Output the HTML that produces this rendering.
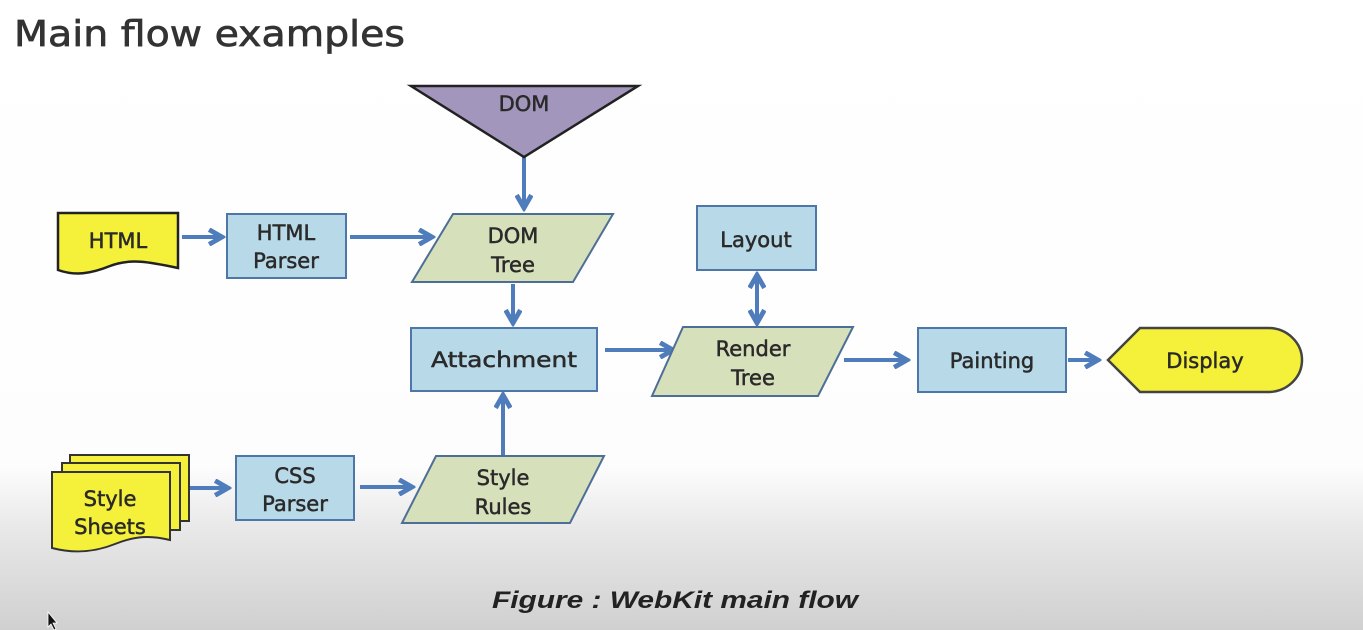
<!DOCTYPE html>
<html><head><meta charset="utf-8"><style>
html,body{margin:0;padding:0;width:1363px;height:630px;overflow:hidden;background:#fff}
svg{display:block}
text{font-family:"DejaVu Sans","Liberation Sans",sans-serif;fill:#2a2a2a}
</style></head><body>
<svg width="1363" height="630" viewBox="0 0 1363 630" xmlns="http://www.w3.org/2000/svg">
<defs>
<linearGradient id="bg" x1="0" y1="0" x2="0" y2="1">
<stop offset="0" stop-color="#ffffff"/><stop offset="0.74" stop-color="#fdfdfd"/><stop offset="0.84" stop-color="#e8e8e8"/><stop offset="1" stop-color="#d0d0d0"/>
</linearGradient>
<marker id="ah" viewBox="0 0 10 10" refX="8" refY="5" markerWidth="4.6" markerHeight="4.6" orient="auto-start-reverse">
<path d="M1,1 L8,5 L1,9" fill="none" stroke="#4f7cba" stroke-width="2.6"/>
</marker>
</defs>
<rect width="1363" height="630" fill="url(#bg)"/>
<text x="14" y="46" font-size="36" textLength="391" lengthAdjust="spacingAndGlyphs" style="fill:#333;stroke:#333;stroke-width:0.7">Main flow examples</text>

<g stroke="#4f7cba" stroke-width="4" fill="none" marker-end="url(#ah)">
<line x1="524" y1="157" x2="524" y2="208"/>
<line x1="182" y1="237" x2="222" y2="237"/>
<line x1="350" y1="237" x2="432" y2="237"/>
<line x1="513" y1="284" x2="513" y2="323"/>
<line x1="503" y1="456" x2="503" y2="395"/>
<line x1="605" y1="350" x2="673" y2="350"/>
<line x1="757" y1="300" x2="757" y2="275"/>
<line x1="757" y1="300" x2="757" y2="323"/>
<line x1="844" y1="360" x2="907" y2="360"/>
<line x1="1068" y1="360" x2="1098" y2="360"/>
<line x1="190" y1="488" x2="228" y2="488"/>
<line x1="360" y1="487" x2="412" y2="487"/>
</g>

<polygon points="411,86 638,86 524,157" fill="#a396bd" stroke="#222" stroke-width="2.5"/>

<path d="M58,213 L178,213 L178,268 C150,262 130,258 110,266 C90,274 75,276 58,270 Z" fill="#f5f03a" stroke="#222" stroke-width="2.5"/>

<g fill="#b8d9e7" stroke="#4d77a8" stroke-width="2">
<rect x="227" y="214" width="119" height="64"/>
<rect x="411" y="328" width="186" height="63"/>
<rect x="697" y="206" width="119" height="64"/>
<rect x="918" y="328" width="148" height="64"/>
<rect x="236" y="456" width="118" height="64"/>
</g>
<g fill="#d6e0bb" stroke="#4d6e96" stroke-width="2">
<polygon points="453,214 613,214 573,282 412,282"/>
<polygon points="683,327 853,327 818,396 652,396"/>
<polygon points="436,456 604,456 570,523 402,523"/>
</g>

<path d="M1108,360 L1140,328 L1268,328 A34,32 0 0 1 1268,392 L1140,392 Z" fill="#f5f03a" stroke="#444" stroke-width="2.5"/>

<g fill="#f5f03a" stroke="#333" stroke-width="2">
<rect x="70" y="455" width="119" height="66"/>
<rect x="62" y="463" width="118" height="67"/>
<path d="M52,472 L170,472 L170,540 C150,535 135,536 115,544 C95,552 75,554 52,548 Z"/>
</g>

<g font-size="21" text-anchor="middle" style="stroke:#2a2a2a;stroke-width:0.5">
<text x="524" y="111">DOM</text>
<text x="118" y="248">HTML</text>
<text x="286" y="240">HTML</text><text x="286" y="268">Parser</text>
<text x="513" y="243">DOM</text><text x="513" y="272">Tree</text>
<text x="504" y="367" textLength="146" lengthAdjust="spacingAndGlyphs">Attachment</text>
<text x="756" y="247">Layout</text>
<text x="753" y="356">Render</text><text x="753" y="385">Tree</text>
<text x="992" y="368">Painting</text>
<text x="1205" y="368">Display</text>
<text x="295" y="483">CSS</text><text x="295" y="511">Parser</text>
<text x="503" y="485">Style</text><text x="503" y="514">Rules</text>
<text x="110" y="506">Style</text><text x="110" y="534">Sheets</text>
</g>

<text x="492" y="608" font-size="24" font-weight="bold" font-style="italic" textLength="366" lengthAdjust="spacingAndGlyphs" style="font-family:'Liberation Sans',sans-serif;fill:#222">Figure : WebKit main flow</text>
<path d="M48,612 L48,627 L51,624 L54,630 L56,629 L53,623 L57,623 Z" fill="#111" stroke="#fff" stroke-width="0.8"/>
</svg>
</body></html>
